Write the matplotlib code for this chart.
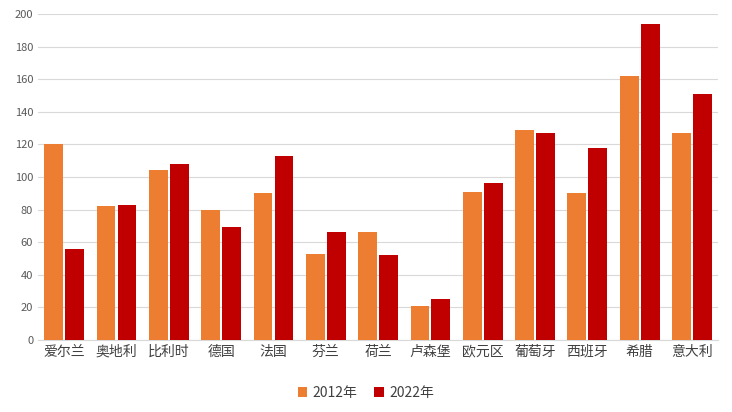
import matplotlib
matplotlib.use("Agg")
import matplotlib.pyplot as plt
import numpy as np

plt.rcParams['font.family'] = ['Noto Sans CJK SC', 'DejaVu Sans']

categories = ["爱尔兰", "奥地利", "比利时", "德国", "法国", "芬兰", "荷兰", "卢森堡", "欧元区", "葡萄牙", "西班牙", "希腊", "意大利"]
v2012 = [120, 82, 104, 80, 90, 53, 66, 21, 91, 129, 90, 162, 127]
v2022 = [56, 83, 108, 69, 113, 66, 52, 25, 96, 127, 118, 194, 151]

fig = plt.figure(figsize=(7.32, 4.12), dpi=100)
ax = fig.add_axes([0.052, 0.175, 0.929, 0.791])
x = np.arange(len(categories))
w = 0.36
ax.bar(x - w/2 - 0.02, v2012, w, color="#ED7D31", label="2012年", zorder=3)
ax.bar(x + w/2 + 0.02, v2022, w, color="#C00000", label="2022年", zorder=3)
ax.set_xlim(-0.5, len(categories) - 0.5)
ax.set_ylim(0, 200)
ax.set_yticks(range(0, 201, 20))
ax.set_xticks(x)
ax.set_xticklabels(categories, fontsize=10, color="#404040")
ax.tick_params(axis='y', labelsize=8, colors="#595959", length=0)
ax.tick_params(axis='x', length=0)
ax.grid(axis='y', color="#D9D9D9", linewidth=0.8, zorder=0)
for s in ["top", "right", "left"]:
    ax.spines[s].set_visible(False)
ax.spines["bottom"].set_color("#D9D9D9")
fig.legend(loc="lower center", ncol=2, frameon=False, fontsize=10, bbox_to_anchor=(0.5, 0.0),
           handlelength=0.7, handleheight=0.7, columnspacing=1.2, handletextpad=0.4,
           labelcolor="#404040")
fig.savefig("out.png", dpi=100)
